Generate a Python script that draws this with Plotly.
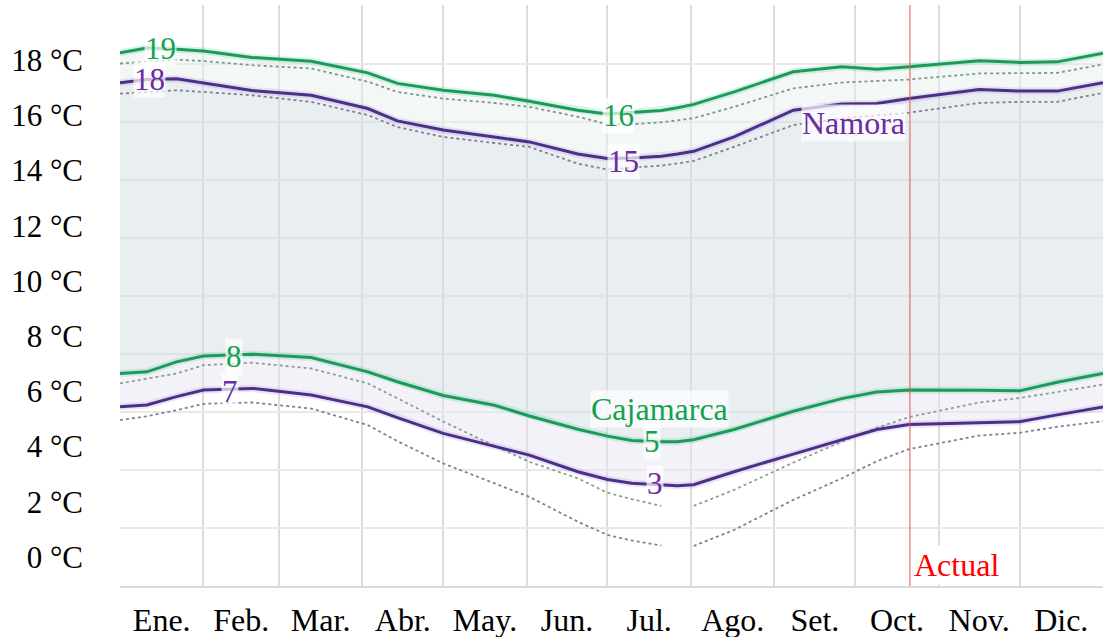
import plotly.graph_objects as go

# Day of year for each sample
days = [0, 10, 21, 31, 49, 71, 92, 103, 120, 139, 152, 170, 181, 190, 201, 207, 213,
        228, 250, 268, 281, 293, 319, 334, 348, 365]

# Cajamarca (green)
caj_high = [18.27, 18.44, 18.40, 18.33, 18.10, 17.96, 17.54, 17.16, 16.91, 16.73, 16.51, 16.19,
            16.05, 16.11, 16.18, 16.28, 16.40, 16.85, 17.58, 17.76, 17.67, 17.76, 17.98, 17.92,
            17.94, 18.25]
caj_high_dot = [17.88, 17.95, 18.02, 17.97, 17.82, 17.70, 17.22, 16.85, 16.61, 16.45, 16.31, 15.95,
                15.68, 15.68, 15.75, 15.82, 15.90, 16.31, 16.98, 17.19, 17.25, 17.30, 17.52, 17.52,
                17.54, 17.85]
caj_low = [6.65, 6.71, 7.07, 7.28, 7.35, 7.23, 6.71, 6.35, 5.85, 5.50, 5.11, 4.63, 4.38, 4.22,
           4.18, 4.18, 4.25, 4.62, 5.28, 5.74, 5.98, 6.05, 6.04, 6.02, 6.33, 6.65]
caj_low_dot = [6.29, 6.45, 6.65, 6.95, 7.04, 6.83, 6.29, 5.75, 4.91, 4.03, 3.45, 2.85, 2.33, 2.10,
               1.85, None, 1.85, 2.43, 3.42, 4.18, 4.68, 5.07, 5.60, 5.76, 5.98, 6.25]

# Namora (purple)
nam_high = [17.18, 17.30, 17.33, 17.18, 16.90, 16.73, 16.25, 15.80, 15.47, 15.22, 15.04, 14.60,
            14.44, 14.46, 14.52, 14.60, 14.70, 15.22, 16.19, 16.41, 16.43, 16.61, 16.94, 16.88,
            16.88, 17.18]
nam_high_dot = [16.79, 16.85, 16.91, 16.85, 16.73, 16.49, 16.01, 15.58, 15.22, 15.00, 14.86, 14.25,
                14.04, 14.11, 14.18, 14.26, 14.35, 14.86, 15.65, 15.89, 16.00, 16.10, 16.45, 16.49,
                16.49, 16.82]
nam_low = [5.44, 5.51, 5.81, 6.05, 6.11, 5.87, 5.44, 5.05, 4.48, 4.02, 3.69, 3.09, 2.81, 2.67,
           2.60, 2.58, 2.62, 3.09, 3.73, 4.24, 4.62, 4.80, 4.85, 4.90, 5.15, 5.44]
nam_low_dot = [4.96, 5.10, 5.32, 5.55, 5.60, 5.38, 4.78, 4.20, 3.39, 2.67, 2.18, 1.28, 0.80, 0.60,
               0.42, None, 0.40, 0.98, 2.07, 2.85, 3.47, 3.91, 4.40, 4.50, 4.72, 4.92]

month_mid = [15.5, 45, 74.5, 105, 135.5, 166, 196.5, 227.5, 258, 288.5, 319, 349.5]
month_labels = ["Ene.", "Feb.", "Mar.", "Abr.", "May.", "Jun.", "Jul.", "Ago.", "Set.", "Oct.",
                "Nov.", "Dic."]
month_starts = [31, 59, 90, 120, 151, 181, 212, 243, 273, 304, 334]

y_ticks = [0, 2, 4, 6, 8, 10, 12, 14, 16, 18]
y_ticktext = [f"{v} \u00b0C" for v in y_ticks]
y_grid = [1.05, 3.15, 5.25, 7.35, 9.45, 11.55, 13.65, 15.75, 17.85]

today = 293.3

GREEN = "#1d9a5a"
GREEN_TXT = "#14a14f"
PURPLE = "#4a3186"
PURPLE_TXT = "#6a2c9e"
FONT = "Liberation Serif"

fig = go.Figure()

# Filled bands (bottom to top), semi-transparent so the grid shows through
fig.add_trace(go.Scatter(x=days, y=nam_low, mode="lines", line=dict(width=0),
                         hoverinfo="skip", showlegend=False))
fig.add_trace(go.Scatter(x=days, y=caj_low, mode="lines", line=dict(width=0), fill="tonexty",
                         fillcolor="rgba(233,229,243,0.5)", hoverinfo="skip", showlegend=False))
fig.add_trace(go.Scatter(x=days, y=nam_high, mode="lines", line=dict(width=0), fill="tonexty",
                         fillcolor="rgba(211,221,227,0.5)", hoverinfo="skip", showlegend=False))
fig.add_trace(go.Scatter(x=days, y=caj_high, mode="lines", line=dict(width=0), fill="tonexty",
                         fillcolor="rgba(231,241,237,0.5)", hoverinfo="skip", showlegend=False))

# Dotted lines
for ys, col in [(caj_high_dot, "#7a9a88"), (caj_low_dot, "#88a292"),
                (nam_high_dot, "#847f95"), (nam_low_dot, "#847f95")]:
    fig.add_trace(go.Scatter(x=days, y=ys, mode="lines", connectgaps=False,
                             line=dict(color=col, width=1.8, dash="dot"),
                             showlegend=False))

# Solid lines with halo
for ys, col, halo in [(caj_high, GREEN, "rgba(40,190,120,0.18)"),
                      (caj_low, GREEN, "rgba(40,190,120,0.18)"),
                      (nam_high, PURPLE, "rgba(150,110,220,0.18)"),
                      (nam_low, PURPLE, "rgba(150,110,220,0.18)")]:
    fig.add_trace(go.Scatter(x=days, y=ys, mode="lines", line=dict(color=halo, width=7),
                             hoverinfo="skip", showlegend=False))
    fig.add_trace(go.Scatter(x=days, y=ys, mode="lines", line=dict(color=col, width=3),
                             showlegend=False))

# Current date marker
fig.add_shape(type="line", x0=today, x1=today, y0=0, y1=1, xref="x", yref="paper",
              line=dict(color="rgba(235,90,90,0.7)", width=1.5))

bg = "rgba(255,255,255,0.7)"
ann = [
    (days[1] + 5, caj_high[1], "19", GREEN_TXT),
    (days[1] + 1, nam_high[1], "18", PURPLE_TXT),
    (185, caj_high[12] - 0.05, "16", GREEN_TXT),
    (187, nam_high[12] - 0.1, "15", PURPLE_TXT),
    (42.5, caj_low[4] - 0.1, "8", GREEN_TXT),
    (41, nam_low[4] - 0.1, "7", PURPLE_TXT),
    (197.5, caj_low[14], "5", GREEN_TXT),
    (198.5, nam_low[14] + 0.05, "3", PURPLE_TXT),
]
for x, y, t, c in ann:
    fig.add_annotation(x=x, y=y, text=t, showarrow=False, bgcolor=bg, borderpad=0,
                       font=dict(family=FONT, size=31, color=c))
fig.add_annotation(x=200.5, y=5.3, text="Cajamarca", showarrow=False, bgcolor=bg, borderpad=0,
                   yanchor="bottom", yshift=-17,
                   font=dict(family=FONT, size=32, color=GREEN_TXT))
fig.add_annotation(x=272.5, y=15.72, text="Namora", showarrow=False, bgcolor=bg, borderpad=0,
                   font=dict(family=FONT, size=32, color=PURPLE_TXT))
fig.add_annotation(x=today, y=-0.3, xanchor="left", xshift=2, text="Actual", showarrow=False,
                   bgcolor="white", borderpad=1, font=dict(family=FONT, size=32, color="#ff0000"))

fig.update_layout(
    width=1103, height=637,
    margin=dict(l=120, r=0, t=5, b=51, autoexpand=False),
    paper_bgcolor="white", plot_bgcolor="white",
    font=dict(family=FONT, size=30, color="black"),
    showlegend=False,
    xaxis=dict(range=[0, 365], tickvals=month_mid, ticktext=month_labels, showgrid=False,
               zeroline=False, showline=True, linecolor="#dadada", linewidth=2,
               ticks="", ticklabelstandoff=5, automargin=False,
               tickfont=dict(family=FONT, size=32, color="black"),
               minor=dict(tickvals=month_starts, showgrid=True, gridcolor="#dcdcdc",
                          gridwidth=1.5, ticks="")),
    yaxis=dict(range=[-1.05, 20.0], tickvals=y_ticks, ticktext=y_ticktext, showgrid=False,
               zeroline=False, showline=False, ticks="", ticklabelstandoff=36, automargin=False,
               tickfont=dict(family=FONT, size=31, color="black"),
               minor=dict(tickvals=y_grid, showgrid=True, gridcolor="#e8e8e8",
                          gridwidth=1.5, ticks="")),
)

fig.write_html("out.html", config={"displayModeBar": False},
               post_script="document.body.style.margin='0';")
